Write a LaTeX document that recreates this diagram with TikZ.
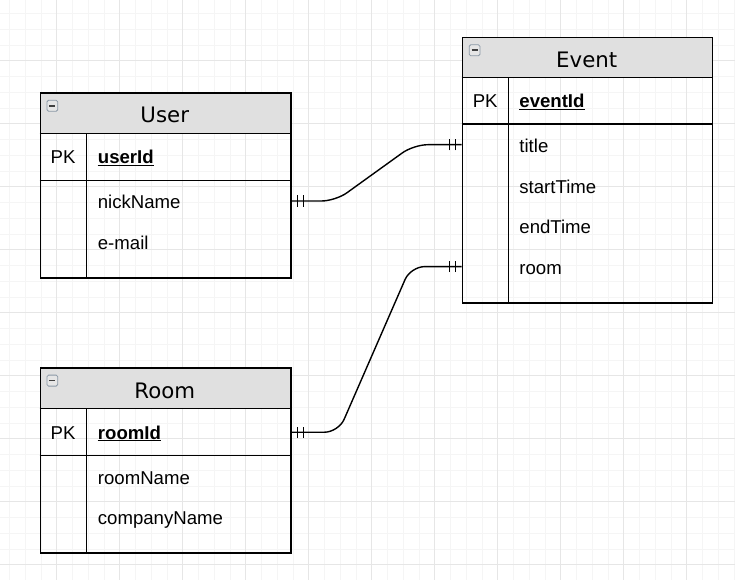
\documentclass[tikz,border=0pt]{standalone}
\usepackage{fontspec}
\setmainfont{Liberation Sans}
\newfontfamily\headfont{DejaVu Sans}
\usetikzlibrary{calc,decorations.markings}
\definecolor{headgray}{HTML}{E0E0E0}
\definecolor{minorline}{HTML}{F5F5F5}
\definecolor{majorline}{HTML}{E6E6E6}
\definecolor{iconedge}{HTML}{8A98A6}
\definecolor{iconfill}{HTML}{E6E6E6}
\begin{document}
\begin{tikzpicture}[x=1pt,y=-1pt,
	tbl/.style={draw=black,line width=1.5pt,anchor=north west,inner sep=0pt},
	divider/.style={line width=1.2pt},
	headtext/.style={inner sep=0pt,text height=20pt,text depth=0pt,font=\headfont\fontsize{21.3}{24}\selectfont},
	fieldtext/.style={anchor=west,inner sep=0pt,text height=15.5pt,text depth=0pt,font=\fontsize{18.6}{22}\selectfont},
	pktext/.style={inner sep=0pt,text height=14pt,text depth=0pt,font=\fontsize{18.6}{22}\selectfont},
	keytext/.style={fieldtext,text height=14pt,font=\fontsize{18.6}{22}\selectfont\bfseries},
	icon/.style={draw=iconedge,fill=iconfill,rounded corners=1.5pt,line width=0.8pt},
	iconbar/.style={black!75,line width=1.6pt},
	tick/.style={line width=1.5pt},
	mandone/.style={postaction={decorate,decoration={markings,
		mark=at position 6pt with {\draw[tick] (0pt,-5.6pt) -- (0pt,5.6pt);},
		mark=at position 12pt with {\draw[tick] (0pt,-5.6pt) -- (0pt,5.6pt);},
		mark=at position -6pt with {\draw[tick] (0pt,-5.6pt) -- (0pt,5.6pt);},
		mark=at position -12pt with {\draw[tick] (0pt,-5.6pt) -- (0pt,5.6pt);}}}},
	rel/.style={line width=1.4pt,rounded corners=14pt,mandone}]
	\useasboundingbox (0,0) rectangle (735,580);
	% Background grid
	\fill[white] (0,0) rectangle (735,580);
	\foreach \k in {0,...,46}
		\draw[minorline,line width=0.7pt] ({9.45+15.75*\k},0) -- ({9.45+15.75*\k},580);
	\foreach \k in {0,...,35}
		\draw[minorline,line width=0.7pt] (0,{13.45+15.75*\k}) -- (735,{13.45+15.75*\k});
	\foreach \k in {0,...,10}
		\draw[majorline,line width=0.8pt] ({56.7+63*\k},0) -- ({56.7+63*\k},580);
	\foreach \k in {0,...,8}
		\draw[majorline,line width=0.8pt] (0,{60.7+63*\k}) -- (735,{60.7+63*\k});

	% User table
	\fill[headgray] (39.5,92.5) rectangle (290,133.5);
	\node[tbl,minimum width=250.5pt,minimum height=184.5pt] (user) at (39.5,92.5) {};
	\draw[divider] (39.5,133.5) -- (290,133.5);
	\draw[divider] (39.5,180.5) -- (290,180.5);
	\draw[divider] (86.7,133.5) -- (86.7,277);
	\draw[icon] (47,100.3) rectangle (57.7,111.3);
	\draw[iconbar] (49.4,105.8) -- (55.3,105.8);
		\node[headtext] (usertitle) at (164.75,113) {User};
		\node[pktext] (userpk) at (63.1,157) {PK};
		\node[keytext] (uid) at (97.7,157) {userId};
		\draw[line width=1.1pt] ($(uid.south west)+(0,1.5)$) -- ($(uid.south east)+(0,1.5)$);
		\node[fieldtext] (nick) at (97.7,201) {nickName};
		\node[fieldtext] (mail) at (97.7,241.7) {e-mail};

	% Event table
	\fill[headgray] (461.7,37) rectangle (711.7,77.3);
	\node[tbl,minimum width=250pt,minimum height=265pt] (event) at (461.7,37) {};
	\draw[divider] (461.7,77.3) -- (711.7,77.3);
	\draw[divider] (461.7,124) -- (711.7,124);
	\draw[divider] (508.7,77.3) -- (508.7,302);
	\draw[icon] (469.2,44.8) rectangle (479.9,55.8);
	\draw[iconbar] (471.6,50.3) -- (477.5,50.3);
		\node[headtext] (eventtitle) at (586.7,57.2) {Event};
		\node[pktext] (eventpk) at (485.2,100.7) {PK};
		\node[keytext] (eid) at (519.2,100.7) {eventId};
		\draw[line width=1.1pt] ($(eid.south west)+(0,1.5)$) -- ($(eid.south east)+(0,1.5)$);
		\node[fieldtext] (title) at (519.2,144.7) {title};
		\node[fieldtext] (start) at (519.2,185.4) {startTime};
		\node[fieldtext] (end) at (519.2,226.1) {endTime};
		\node[fieldtext] (eroom) at (519.2,266.6) {room};

	% Room table
	\fill[headgray] (39.5,367.3) rectangle (290,408.7);
	\node[tbl,minimum width=250.5pt,minimum height=185pt] (room) at (39.5,367.3) {};
	\draw[divider] (39.5,408.7) -- (290,408.7);
	\draw[divider] (39.5,455.7) -- (290,455.7);
	\draw[divider] (86.7,408.7) -- (86.7,552.3);
	\draw[icon] (47,375.1) rectangle (57.7,386.1);
	\draw[iconbar] (49.4,380.6) -- (55.3,380.6);
		\node[headtext] (roomtitle) at (164.75,388) {Room};
		\node[pktext] (roompk) at (63.1,432.2) {PK};
		\node[keytext] (rid) at (97.7,432.2) {roomId};
		\draw[line width=1.1pt] ($(rid.south west)+(0,1.5)$) -- ($(rid.south east)+(0,1.5)$);
		\node[fieldtext] (rname) at (97.7,476.4) {roomName};
		\node[fieldtext] (cname) at (97.7,517.1) {companyName};

	% Relations
	\draw[rel] (user.east |- nick) -- ++(44,0) -- ($(event.west |- title)+(-48,0)$) -- (event.west |- title);
	\draw[rel] (room.east |- rid) -- ++(47,0) -- ($(event.west |- eroom)+(-51,0)$) -- (event.west |- eroom);
\end{tikzpicture}
\end{document}
